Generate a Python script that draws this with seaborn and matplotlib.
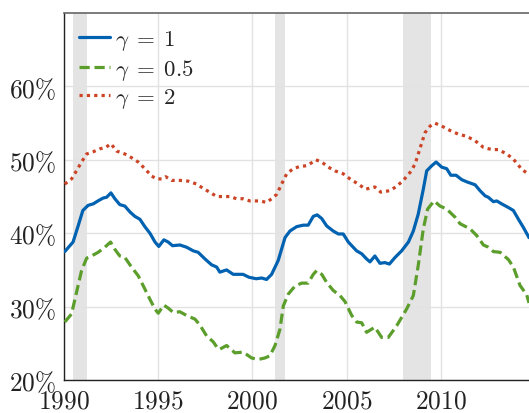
import matplotlib
matplotlib.use("Agg")
import matplotlib.pyplot as plt
import matplotlib.ticker as mticker
import seaborn as sns
import pandas as pd

# ---- data ----
g1_year = [1990.04, 1990.48, 1990.75, 1991.0, 1991.28, 1991.55, 1991.8, 1992.08, 1992.26, 1992.49,
           1992.7, 1992.96, 1993.23, 1993.5, 1993.76, 1994.03, 1994.29, 1994.56, 1994.83, 1995.03,
           1995.3, 1995.53, 1995.76, 1996.15, 1996.5, 1996.86, 1997.12, 1997.48, 1997.83, 1998.1,
           1998.27, 1998.63, 1998.98, 1999.5, 1999.82, 2000.2, 2000.49, 2000.75, 2001.02, 2001.37,
           2001.73, 2001.99, 2002.35, 2002.7, 2002.96, 2003.23, 2003.44, 2003.68, 2003.94, 2004.29,
           2004.56, 2004.82, 2005.09, 2005.53, 2005.8, 2006.06, 2006.24, 2006.5, 2006.77, 2007.03,
           2007.27, 2007.57, 2007.92, 2008.28, 2008.54, 2008.8, 2009.07, 2009.25, 2009.52, 2009.75,
           2010.05, 2010.31, 2010.53, 2010.81, 2011.11, 2011.38, 2011.82, 2012.08, 2012.35, 2012.52,
           2012.79, 2012.97, 2013.23, 2013.59, 2013.85, 2014.12, 2014.38, 2014.68]
g1_val = [37.5, 38.8, 41.0, 43.1, 43.8, 44.0, 44.4, 44.8, 44.9, 45.5,
          44.7, 43.9, 43.7, 42.9, 42.3, 41.9, 40.9, 40.0, 38.8, 38.2,
          39.1, 38.8, 38.3, 38.4, 38.1, 37.6, 37.4, 36.5, 35.7, 35.4,
          34.7, 35.0, 34.4, 34.4, 34.0, 33.8, 33.9, 33.7, 34.4, 36.3,
          39.4, 40.3, 40.9, 41.1, 41.1, 42.3, 42.5, 42.0, 41.0, 40.3,
          39.9, 39.9, 38.8, 37.6, 37.2, 36.5, 36.1, 36.9, 35.9, 36.0,
          35.8, 36.7, 37.6, 38.8, 40.3, 42.6, 46.0, 48.5, 49.2, 49.7,
          49.0, 48.8, 47.9, 47.9, 47.3, 47.0, 46.6, 45.8, 45.1, 44.9,
          44.3, 44.4, 44.0, 43.5, 43.1, 41.9, 40.8, 39.4]

g05_year = [1990.04, 1990.4, 1990.66, 1990.93, 1991.2, 1991.46, 1991.81, 1992.17, 1992.47, 1992.7,
            1992.96, 1993.23, 1993.58, 1993.94, 1994.29, 1994.56, 1994.82, 1995.0, 1995.3, 1995.53,
            1995.8, 1996.15, 1996.5, 1996.95, 1997.21, 1997.57, 1997.92, 1998.19, 1998.27, 1998.63,
            1999.07, 1999.51, 1999.96, 2000.31, 2000.66, 2000.93, 2001.2, 2001.46, 2001.64, 2001.9,
            2002.26, 2002.61, 2002.96, 2003.23, 2003.41, 2003.68, 2003.94, 2004.29, 2004.65, 2004.91,
            2005.27, 2005.53, 2005.8, 2006.06, 2006.5, 2006.86, 2007.21, 2007.66, 2008.19, 2008.54,
            2008.8, 2009.07, 2009.3, 2009.64, 2009.96, 2010.31, 2010.75, 2011.02, 2011.55, 2011.9,
            2012.26, 2012.52, 2012.79, 2013.15, 2013.59, 2013.85, 2014.2, 2014.56, 2014.68]
g05_val = [27.9, 29.0, 31.9, 34.9, 36.6, 36.9, 37.4, 38.1, 38.8, 37.8,
           36.9, 36.7, 35.4, 34.2, 32.4, 31.0, 29.7, 29.1, 30.2, 29.8,
           29.2, 29.3, 28.8, 28.3, 27.5, 26.0, 25.2, 24.2, 24.2, 24.7,
           23.7, 23.8, 23.0, 22.8, 23.0, 23.3, 24.7, 26.9, 30.1, 31.7,
           32.8, 33.2, 33.2, 34.4, 34.9, 34.4, 33.3, 32.2, 31.5, 30.7,
           28.8, 27.9, 27.8, 26.5, 27.2, 25.8, 25.8, 27.4, 29.7, 31.5,
           35.6, 40.6, 43.3, 44.4, 43.7, 43.3, 42.2, 41.3, 40.6, 39.7,
           38.4, 38.1, 37.5, 37.4, 36.4, 35.4, 32.9, 31.6, 30.5]

g2_year = [1990.04, 1990.4, 1990.66, 1990.93, 1991.2, 1991.55, 1991.9, 1992.22, 1992.49, 1992.79,
           1993.23, 1993.58, 1993.94, 1994.29, 1994.65, 1994.91, 1995.18, 1995.4, 1995.71, 1996.15,
           1996.59, 1997.04, 1997.39, 1997.8, 1998.1, 1998.45, 1998.8, 1999.16, 1999.51, 1999.87,
           2000.4, 2000.75, 2001.02, 2001.29, 2001.55, 2001.82, 2002.17, 2002.52, 2002.88, 2003.14,
           2003.37, 2003.68, 2004.03, 2004.38, 2004.82, 2005.18, 2005.62, 2006.0, 2006.5, 2006.81,
           2007.3, 2007.66, 2008.01, 2008.37, 2008.63, 2008.9, 2009.16, 2009.43, 2009.69, 2010.05,
           2010.49, 2010.93, 2011.38, 2011.82, 2012.26, 2012.7, 2013.05, 2013.5, 2013.85, 2014.3,
           2014.68]
g2_val = [46.7, 47.4, 48.5, 49.7, 50.8, 51.1, 51.5, 51.7, 52.2, 51.2,
          50.8, 50.3, 49.7, 48.8, 47.8, 47.4, 47.4, 47.7, 47.2, 47.2,
          47.1, 46.7, 46.1, 45.5, 45.0, 45.0, 45.0, 44.7, 44.7, 44.4,
          44.4, 44.2, 44.7, 45.3, 46.7, 48.1, 48.8, 49.1, 49.2, 49.6,
          50.0, 49.7, 49.0, 48.5, 48.1, 47.4, 46.7, 46.0, 46.3, 45.6,
          45.8, 46.4, 47.2, 48.3, 49.4, 51.6, 53.7, 54.6, 55.0, 54.6,
          54.0, 53.5, 53.2, 52.6, 51.7, 51.4, 51.4, 50.8, 50.1, 48.7,
          48.0]

recession_start = [1990.5, 2001.2, 2008.0]
recession_end = [1991.22, 2001.75, 2009.5]

series_labels = [r"$\gamma\;=\;1$", r"$\gamma\;=\;0.5$", r"$\gamma\;=\;2$"]
x_ticks = [1990, 1995, 2000, 2005, 2010]
y_ticks = [20, 30, 40, 50, 60]

# ---- styling ----
sns.set_style("whitegrid")
plt.rcParams["mathtext.fontset"] = "cm"
plt.rcParams["font.family"] = ["DejaVu Serif"]

fig = plt.figure(figsize=(5.29, 4.14), dpi=100)
ax = fig.add_axes([0.121, 0.0797, 0.879, 0.8863])

for s, e in zip(recession_start, recession_end):
    ax.axvspan(s, e, color="#e4e4e4", lw=0, zorder=0.5)

lw = 2.3
sns.lineplot(x=g1_year, y=g1_val, ax=ax, color="#0062b0", lw=lw,
             label=series_labels[0], zorder=3)
sns.lineplot(x=g05_year, y=g05_val, ax=ax, color="#5c9e2c", lw=lw,
             linestyle=(0, (3.2, 1.5)), label=series_labels[1], zorder=3)
sns.lineplot(x=g2_year, y=g2_val, ax=ax, color="#cc4426", lw=lw,
             linestyle=(0, (1, 1.3)), label=series_labels[2], zorder=3)

ax.set_xlim(1990, 2014.68)
ax.set_ylim(20, 70)
ax.set_xticks(x_ticks)
ax.set_yticks(y_ticks)
ax.xaxis.set_major_formatter(mticker.FuncFormatter(lambda v, p: r"$%d$" % v))
ax.yaxis.set_major_formatter(mticker.FuncFormatter(lambda v, p: r"$%d\%%$" % v))
ax.tick_params(axis="both", length=0, labelsize=18.3, colors="#222222")
ax.tick_params(axis="x", pad=7)
ax.tick_params(axis="y", pad=6)

ax.grid(True, color="#e2e2e2", lw=1.0)
ax.set_axisbelow(True)
ax.set_xlabel("")
ax.set_ylabel("")

for side in ["left", "bottom"]:
    ax.spines[side].set_visible(True)
    ax.spines[side].set_color("#222222")
    ax.spines[side].set_linewidth(1.0)
ax.spines["top"].set_visible(True)
ax.spines["top"].set_color("#666666")
ax.spines["top"].set_linewidth(1.2)
ax.spines["right"].set_visible(False)

leg = ax.legend(loc="upper left", frameon=False, fontsize=16.5,
                handlelength=1.37, handletextpad=0.2, labelspacing=0.2,
                borderaxespad=0.3, borderpad=0.35)

fig.savefig("out.png", dpi=100)
